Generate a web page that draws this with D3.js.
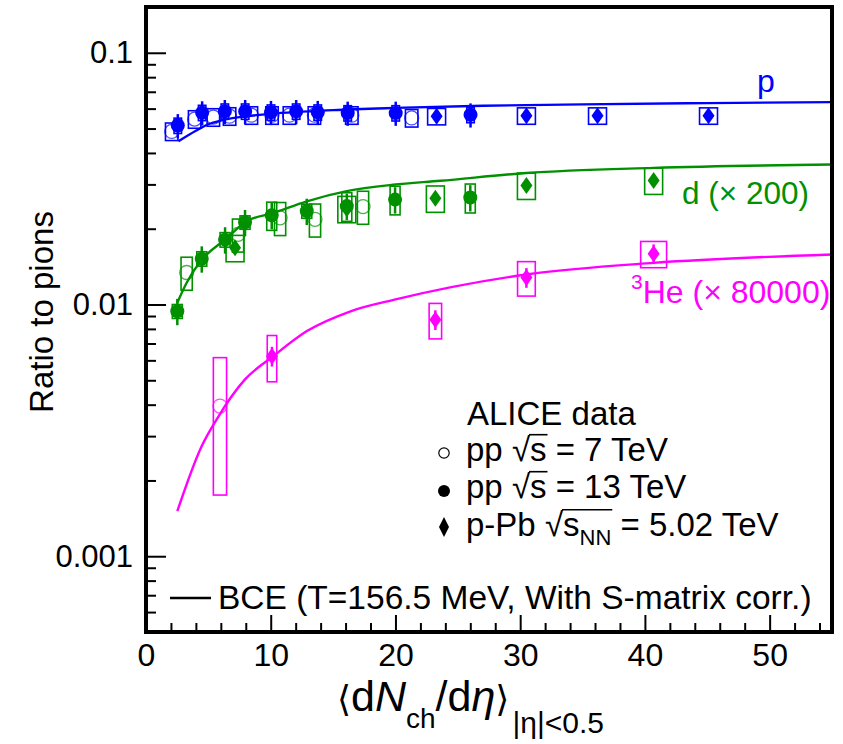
<!DOCTYPE html>
<html>
<head>
<meta charset="utf-8">
<script src="https://cdn.jsdelivr.net/npm/d3@7"></script>
<style>
  body { margin: 0; background: #fff; }
  text { font-family: "Liberation Sans", Arial, sans-serif; }
</style>
</head>
<body>
<div id="chart"></div>
<script>
// ---- data ----
// protons / pions
const pMult7 = [2.06, 3.9, 5.4, 6.7, 8.45, 10.1, 11.5, 13.5, 16.5, 21.3];
const pRatio7 = [0.0487, 0.0545, 0.0555, 0.056, 0.0565, 0.0565, 0.0565, 0.0565, 0.0565, 0.0551];
const pMult13 = [2.55, 4.5, 6.32, 7.95, 10.02, 12.04, 13.77, 16.17, 20.02, 26.02];
const pRatio13 = [0.0514, 0.0578, 0.0585, 0.0585, 0.058, 0.0585, 0.058, 0.0576, 0.0576, 0.0567];
const pMultPb = [23.3, 30.5, 36.2, 45.1];
const pRatioPb = [0.0559, 0.0562, 0.0562, 0.0562];

// deuterons / pions (x 200)
const dMult7 = [3.26, 7.38, 10.75, 13.55, 17.4];
const dRatio7 = [0.0134, 0.019, 0.0221, 0.0218, 0.0245];
const dMult13 = [2.51, 4.47, 6.34, 7.94, 10.08, 12.89, 16.1, 19.97, 26.0];
const dRatio13 = [0.0094, 0.0152, 0.0181, 0.0212, 0.0226, 0.0235, 0.0246, 0.0261, 0.0266];
const dSys13 = [0.0006, 0.001, 0.0012, 0.0013, 0.0029, 0.0015, 0.0032, 0.0034, 0.0035];
const dMultPb = [7.14, 16.1, 23.2, 30.5, 40.7];
const dRatioPb = [0.0168, 0.024, 0.0264, 0.0297, 0.0311];

// 3He / pions (x 80000)
const heMult7 = [5.93];
const heRatio7 = [0.00395];
const heSys7 = [0.0022];
const heMultPb = [10.1, 23.2, 30.5, 40.7];
const heRatioPb = [0.00623, 0.0087, 0.0128, 0.0159];
const heSysPb = [0.0013, 0.0014, 0.002, 0.0019];
const heXerrPb = [0.38, 0.5, 0.71, 1.04];

// BCE model curves
const pCurveX = [2.6, 4, 5, 6, 7.5, 10, 15, 20, 27, 35, 45, 55];
const pCurveY = [0.0445, 0.049, 0.052, 0.0538, 0.0555, 0.0572, 0.0592, 0.0604, 0.0616, 0.0624, 0.0631, 0.0637];
const dCurveX = [2.51, 3.26, 4.47, 6.34, 8.07, 10.2, 12.9, 16.1, 19.8, 23.6, 30.5, 40.7, 55];
const dCurveY = [0.01016, 0.0122, 0.01505, 0.0181, 0.0214, 0.0231, 0.0257, 0.0282, 0.0299, 0.031, 0.0333, 0.0349, 0.036];
const heCurveX = [2.51, 4.47, 5.67, 7.94, 10.2, 12.9, 16.4, 20.1, 30.5, 40.7, 55];
const heCurveY = [0.00151, 0.00274, 0.0035, 0.00504, 0.00623, 0.00784, 0.0094, 0.0105, 0.01316, 0.01463, 0.0158];

// axis ticks
const xTicks = [0, 10, 20, 30, 40, 50];
const yTicks = [0.001, 0.01, 0.1];
const yTickLabels = ["0.001", "0.01", "0.1"];

// colours
const blue = "#0000ff", green = "#009000", magenta = "#ff00ff";

// ---- set up ----
const width = 843, height = 744;
const svg = d3.select("#chart").append("svg")
  .attr("width", width)
  .attr("height", height);

const x = d3.scaleLinear().domain([0, 55]).range([146, 832]);
const y = d3.scaleLog().domain([5e-4, 0.152]).range([632, 7]);

const zip = (a, b) => a.map((v, i) => [v, b[i]]);

// minor ticks on the log axis
const yMinor = [];
[1e-4, 1e-3, 1e-2].forEach(dec => {
  for (let k = 2; k <= 9; k++) {
    const v = dec * k;
    if (v > 5e-4 && v < 0.152) yMinor.push(v);
  }
});
const xMinor = d3.range(0, 56, 2).filter(v => v % 10 !== 0);

// y axis: major ticks with labels, minor ticks, drawn inwards
svg.append("g")
  .attr("transform", `translate(${x(0)},0)`)
  .call(d3.axisLeft(y).tickValues(yTicks).tickSizeInner(-20).tickSizeOuter(0).tickPadding(13)
    .tickFormat((d, i) => yTickLabels[i]))
  .call(g => g.select(".domain").remove())
  .call(g => g.selectAll("line").attr("stroke-width", 2))
  .call(g => g.selectAll("text").attr("font-size", 31).attr("fill", "#000")
    .attr("font-family", "Liberation Sans, Arial, sans-serif"));
svg.append("g")
  .attr("transform", `translate(${x(0)},0)`)
  .call(d3.axisLeft(y).tickValues(yMinor).tickSizeInner(-10).tickSizeOuter(0).tickFormat(""))
  .call(g => g.select(".domain").remove())
  .call(g => g.selectAll("line").attr("stroke-width", 2));

// x axis
svg.append("g")
  .attr("transform", `translate(0,${y(5e-4)})`)
  .call(d3.axisBottom(x).tickValues(xTicks).tickSizeInner(-17).tickSizeOuter(0).tickPadding(11))
  .call(g => g.select(".domain").remove())
  .call(g => g.selectAll("line").attr("stroke-width", 2))
  .call(g => g.selectAll("text").attr("font-size", 32).attr("fill", "#000")
    .attr("font-family", "Liberation Sans, Arial, sans-serif"));
svg.append("g")
  .attr("transform", `translate(0,${y(5e-4)})`)
  .call(d3.axisBottom(x).tickValues(xMinor).tickSizeInner(-9).tickSizeOuter(0).tickFormat(""))
  .call(g => g.select(".domain").remove())
  .call(g => g.selectAll("line").attr("stroke-width", 2));

// ---- model curves ----
const line = d3.line().x(d => x(d[0])).y(d => y(d[1])).curve(d3.curveMonotoneX);
[[pCurveX, pCurveY, blue], [dCurveX, dCurveY, green], [heCurveX, heCurveY, magenta]]
  .forEach(([cx, cy, col]) => {
    svg.append("path")
      .datum(zip(cx, cy))
      .attr("fill", "none")
      .attr("stroke", col)
      .attr("stroke-width", 2.4)
      .attr("d", line);
  });

// ---- data points ----
const diamond = "M0,-8.5L6,0L0,8.5L-6,0Z";

function drawSeries(mult, ratio, o) {
  const g = svg.append("g");
  const pts = mult.map((m, i) => ({
    m, r: ratio[i],
    sys: o.sysAbs ? o.sysAbs[i] : ratio[i] * o.sysRel,
    xe: o.xErr ? o.xErr[i] : o.xHalf
  }));
  // systematic boxes
  g.selectAll("rect.sys").data(pts).enter().append("rect")
    .attr("x", d => x(d.m - d.xe))
    .attr("width", d => x(d.m + d.xe) - x(d.m - d.xe))
    .attr("y", d => y(d.r + d.sys))
    .attr("height", d => y(d.r - d.sys) - y(d.r + d.sys))
    .attr("fill", "none")
    .attr("stroke", o.color)
    .attr("stroke-width", 1.6);
  // statistical bars
  if (o.statRel) {
    g.selectAll("line.stat").data(pts).enter().append("line")
      .attr("x1", d => x(d.m)).attr("x2", d => x(d.m))
      .attr("y1", d => y(d.r * (1 + o.statRel)))
      .attr("y2", d => y(d.r * (1 - o.statRel)))
      .attr("stroke", o.color)
      .attr("stroke-width", 2.5);
  }
  // markers
  if (o.marker === "diamond") {
    g.selectAll("path.mk").data(pts).enter().append("path")
      .attr("d", diamond)
      .attr("transform", d => `translate(${x(d.m)},${y(d.r)})`)
      .attr("fill", o.color);
  } else {
    g.selectAll("circle.mk").data(pts).enter().append("circle")
      .attr("cx", d => x(d.m))
      .attr("cy", d => y(d.r))
      .attr("r", 7)
      .attr("fill", o.marker === "open" ? "none" : o.color)
      .attr("stroke", o.color)
      .attr("stroke-opacity", o.marker === "open" ? 0.7 : 1)
      .attr("stroke-width", o.marker === "open" ? 1.3 : 0);
  }
}

// protons
drawSeries(pMult7, pRatio7, { color: blue, marker: "open", sysRel: 0.08, xHalf: 0.5 });
drawSeries(pMultPb, pRatioPb, { color: blue, marker: "diamond", sysRel: 0.075, xHalf: 0.72, statRel: 0.03 });
drawSeries(pMult13, pRatio13, { color: blue, marker: "filled", sysRel: 0.07, xHalf: 0.3, statRel: 0.11 });
// deuterons
drawSeries(dMult7, dRatio7, { color: green, marker: "open", sysRel: 0.15, xHalf: 0.45 });
drawSeries(dMultPb, dRatioPb, { color: green, marker: "diamond", sysRel: 0.12, xHalf: 0.72, statRel: 0.05 });
drawSeries(dMult13, dRatio13, { color: green, marker: "filled", sysAbs: dSys13, xHalf: 0.4, statRel: 0.12 });
// helium-3
drawSeries(heMult7, heRatio7, { color: magenta, marker: "open", sysAbs: heSys7, xHalf: 0.53 });
drawSeries(heMultPb, heRatioPb, { color: magenta, marker: "diamond", sysAbs: heSysPb, xErr: heXerrPb, statRel: 0.09 });

// ---- frame ----
svg.append("rect")
  .attr("x", x(0)).attr("y", y(0.152))
  .attr("width", x(55) - x(0)).attr("height", y(5e-4) - y(0.152))
  .attr("fill", "none").attr("stroke", "#000").attr("stroke-width", 4);

// ---- series labels ----
svg.append("text").attr("x", 757).attr("y", 92).attr("font-size", 32).attr("fill", blue).text("p");
svg.append("text").attr("x", 682).attr("y", 204).attr("font-size", 31.5).attr("fill", green).text("d (× 200)");
const he = svg.append("text").attr("x", 631).attr("y", 303).attr("font-size", 32).attr("fill", magenta);
he.append("tspan").attr("font-size", 21).attr("dy", -14).text("3");
he.append("tspan").attr("dy", 14).text("He (× 80000)");

// ---- legend ----
const leg = svg.append("g").attr("font-size", 33).attr("fill", "#000");
leg.append("text").attr("x", 467).attr("y", 425).text("ALICE data");

function sqrtLine(yy, pre, sub, post) {
  const tx = leg.append("text").attr("x", 466).attr("y", yy);
  tx.append("tspan").text(pre + " ");
  tx.append("tspan").text("√");
  tx.append("tspan").text("s");
  if (sub) {
    tx.append("tspan").attr("font-size", 22).attr("dy", 9).text(sub);
    tx.append("tspan").attr("dy", -9).text(" " + post);
  } else {
    tx.append("tspan").text(" " + post);
  }
  // bar of the radical over s (and subscript)
  const node = tx.node();
  const iRoot = pre.length + 1;
  const iEnd = iRoot + 1 + (sub ? sub.length : 0);
  const root = node.getExtentOfChar(iRoot);
  const last = node.getExtentOfChar(iEnd);
  const topY = root.y + root.height * 0.1;
  leg.append("line")
    .attr("x1", root.x + root.width - 1).attr("x2", last.x + last.width + 1)
    .attr("y1", topY).attr("y2", topY)
    .attr("stroke", "#000").attr("stroke-width", 1.6);
}
sqrtLine(461, "pp", null, "= 7 TeV");
sqrtLine(498, "pp", null, "= 13 TeV");
sqrtLine(536, "p-Pb", "NN", "= 5.02 TeV");

leg.append("circle").attr("cx", 444).attr("cy", 453).attr("r", 5.2)
  .attr("fill", "none").attr("stroke", "#000").attr("stroke-width", 1.2);
leg.append("circle").attr("cx", 444).attr("cy", 491).attr("r", 6).attr("fill", "#000");
leg.append("path").attr("d", "M0,-10L5,0L0,10L-5,0Z").attr("transform", "translate(444,527)").attr("fill", "#000");

svg.append("line").attr("x1", 170).attr("x2", 211).attr("y1", 598).attr("y2", 598)
  .attr("stroke", "#000").attr("stroke-width", 2.5);
svg.append("text").attr("x", 218).attr("y", 609).attr("font-size", 33.5).attr("fill", "#000")
  .text("BCE (T=156.5 MeV, With S-matrix corr.)");

// ---- axis titles ----
svg.append("text")
  .attr("transform", "translate(53,312) rotate(-90)")
  .attr("text-anchor", "middle")
  .attr("font-size", 33)
  .text("Ratio to pions");

const xt = svg.append("text").attr("x", 337).attr("y", 711).attr("font-size", 43);
xt.append("tspan").attr("font-family", "DejaVu Sans").attr("font-size", 36).text("⟨");
xt.append("tspan").text("d");
xt.append("tspan").attr("font-style", "italic").text("N");
xt.append("tspan").attr("font-size", 28).attr("dy", 17).text("ch");
xt.append("tspan").attr("dy", -17).text("/d");
xt.append("tspan").attr("font-style", "italic").text("η");
xt.append("tspan").attr("font-family", "DejaVu Sans").attr("font-size", 36).text("⟩");
xt.append("tspan").attr("font-size", 30).attr("dx", 3).attr("dy", 22).text("|η|<0.5");
</script>
</body>
</html>
